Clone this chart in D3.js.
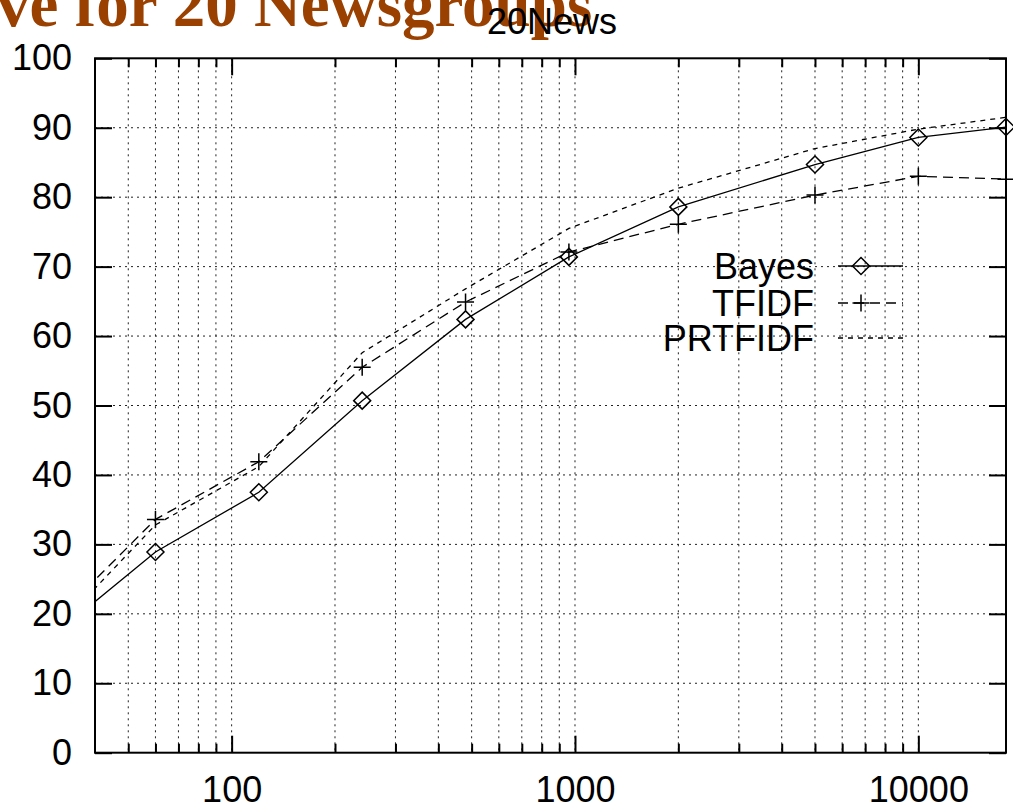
<!DOCTYPE html>
<html>
<head>
<meta charset="utf-8">
<script src="https://cdn.jsdelivr.net/npm/d3@7"></script>
<style>
  body { margin: 0; background: #fff; }
  svg text { font-family: "Liberation Sans", Arial, sans-serif; }
</style>
</head>
<body>
<div id="chartContainer"></div>
<script>
// training set sizes (docs), first point lies left of the visible range
const sizes = [30, 60, 120, 240, 480, 960, 2000, 5000, 10000, 18000];
const bayes = [16.7, 28.9, 37.5, 50.7, 62.4, 71.4, 78.6, 84.7, 88.6, 90.1];
const tfidf = [18.7, 33.6, 41.9, 55.5, 64.9, 72.1, 76.1, 80.3, 83.0, 82.6];
const prtfidf = [17.2, 32.8, 41.2, 57.6, 66.8, 75.5, 81.3, 87.0, 89.8, 91.5];

const seriesNames = ["Bayes", "TFIDF", "PRTFIDF"];
const xMajor = [100, 1000, 10000];
const xMinor = [50, 60, 70, 80, 90, 200, 300, 400, 500, 600, 700, 800, 900,
  2000, 3000, 4000, 5000, 6000, 7000, 8000, 9000];
const yTicks = [0, 10, 20, 30, 40, 50, 60, 70, 80, 90, 100];

const width = 1013, height = 812;
const plotLeft = 95, plotRight = 1006, plotTop = 58.3, plotBottom = 752.7;

const svg = d3
  .select("#chartContainer")
  .append("svg")
  .attr("width", width)
  .attr("height", height);

const x = d3.scaleLog().domain([40, 18000]).range([plotLeft, plotRight]);
const y = d3.scaleLinear().domain([0, 100]).range([plotBottom, plotTop]);

// big brown heading from the page behind, mostly cut off at the top
svg
  .append("text")
  .attr("x", -3)
  .attr("y", 26)
  .style("font-family", '"Liberation Serif", "Times New Roman", serif')
  .style("font-weight", "bold")
  .style("font-size", "65px")
  .attr("fill", "#9a4000")
  .text("ve for 20 Newsgroups");

svg
  .append("text")
  .attr("x", 552)
  .attr("y", 34)
  .attr("text-anchor", "middle")
  .style("font-size", "36px")
  .text("20News");

// grid
const grid = svg.append("g").attr("stroke", "#222").attr("stroke-width", 1)
  .attr("stroke-dasharray", "2,4");
grid
  .selectAll(".hgrid")
  .data(yTicks.slice(1, -1))
  .enter()
  .append("line")
  .attr("x1", plotLeft)
  .attr("x2", plotRight)
  .attr("y1", (d) => y(d))
  .attr("y2", (d) => y(d));
grid
  .selectAll(".vgrid")
  .data(xMajor.concat(xMinor))
  .enter()
  .append("line")
  .attr("x1", (d) => x(d))
  .attr("x2", (d) => x(d))
  .attr("y1", plotTop)
  .attr("y2", plotBottom);

// axes (ticks point inward, mirrored on top/right)
function styleAxis(g) {
  g.select(".domain").remove();
  g.selectAll("line").attr("stroke", "#000").attr("stroke-width", 2);
  g.selectAll("text").style("font-size", "36px").attr("fill", "#000")
    .style("font-family", '"Liberation Sans", Arial, sans-serif');
}

svg.append("g").attr("transform", `translate(0,${plotBottom})`)
  .call(d3.axisBottom(x).tickValues(xMajor).tickFormat(d3.format("d"))
    .tickSize(-17).tickPadding(24))
  .call(styleAxis);
svg.append("g").attr("transform", `translate(0,${plotBottom})`)
  .call(d3.axisBottom(x).tickValues(xMinor).tickFormat("").tickSize(-9))
  .call(styleAxis);
svg.append("g").attr("transform", `translate(0,${plotTop})`)
  .call(d3.axisTop(x).tickValues(xMajor).tickFormat("").tickSize(-17))
  .call(styleAxis);
svg.append("g").attr("transform", `translate(0,${plotTop})`)
  .call(d3.axisTop(x).tickValues(xMinor).tickFormat("").tickSize(-9))
  .call(styleAxis);
svg.append("g").attr("transform", `translate(${plotLeft},0)`)
  .call(d3.axisLeft(y).tickValues(yTicks).tickSize(-17).tickPadding(23))
  .call(styleAxis);
svg.append("g").attr("transform", `translate(${plotRight},0)`)
  .call(d3.axisRight(y).tickValues(yTicks).tickFormat("").tickSize(-17))
  .call(styleAxis);

// series
svg.append("clipPath").attr("id", "plotClip")
  .append("rect")
  .attr("x", plotLeft).attr("y", plotTop)
  .attr("width", plotRight - plotLeft).attr("height", plotBottom - plotTop);

const series = [
  { name: seriesNames[0], values: bayes, dash: null, marker: "diamond" },
  { name: seriesNames[1], values: tfidf, dash: "10,6", marker: "plus" },
  { name: seriesNames[2], values: prtfidf, dash: "5,5", marker: null },
];

const line = d3.line()
  .x((d) => x(d[0]))
  .y((d) => y(d[1]));

function markerPath(type, cx, cy) {
  const s = 8.5;
  if (type === "diamond") {
    return `M${cx},${cy - s}L${cx + s},${cy}L${cx},${cy + s}L${cx - s},${cy}Z`;
  }
  return `M${cx - s},${cy}H${cx + s}M${cx},${cy - s}V${cy + s}`;
}

const legendY = [266, 303, 338];

series.forEach((s, i) => {
  const pts = sizes.map((v, j) => [v, s.values[j]]);

  svg.append("path")
    .datum(pts)
    .attr("clip-path", "url(#plotClip)")
    .attr("d", line)
    .attr("fill", "none")
    .attr("stroke", "#000")
    .attr("stroke-width", 1.3)
    .attr("stroke-dasharray", s.dash);

  if (s.marker) {
    svg.selectAll(".mark" + i)
      .data(pts.filter((p) => p[0] >= 40))
      .enter()
      .append("path")
      .attr("d", (p) => markerPath(s.marker, x(p[0]), y(p[1])))
      .attr("fill", "none")
      .attr("stroke", "#000")
      .attr("stroke-width", 1.5);
  }

  // legend entry
  svg.append("text")
    .attr("x", 814)
    .attr("y", legendY[i])
    .attr("dy", "0.35em")
    .attr("text-anchor", "end")
    .style("font-size", "36px")
    .text(s.name);
  svg.append("line")
    .attr("x1", 838).attr("x2", 903)
    .attr("y1", legendY[i]).attr("y2", legendY[i])
    .attr("stroke", "#000")
    .attr("stroke-width", 1.3)
    .attr("stroke-dasharray", s.dash);
  if (s.marker) {
    svg.append("path")
      .attr("d", markerPath(s.marker, 861, legendY[i]))
      .attr("fill", "none")
      .attr("stroke", "#000")
      .attr("stroke-width", 1.5);
  }
});

// frame
svg.append("rect")
  .attr("x", plotLeft).attr("y", plotTop)
  .attr("width", plotRight - plotLeft).attr("height", plotBottom - plotTop)
  .attr("fill", "none")
  .attr("stroke", "#000")
  .attr("stroke-width", 2);
</script>
</body>
</html>
